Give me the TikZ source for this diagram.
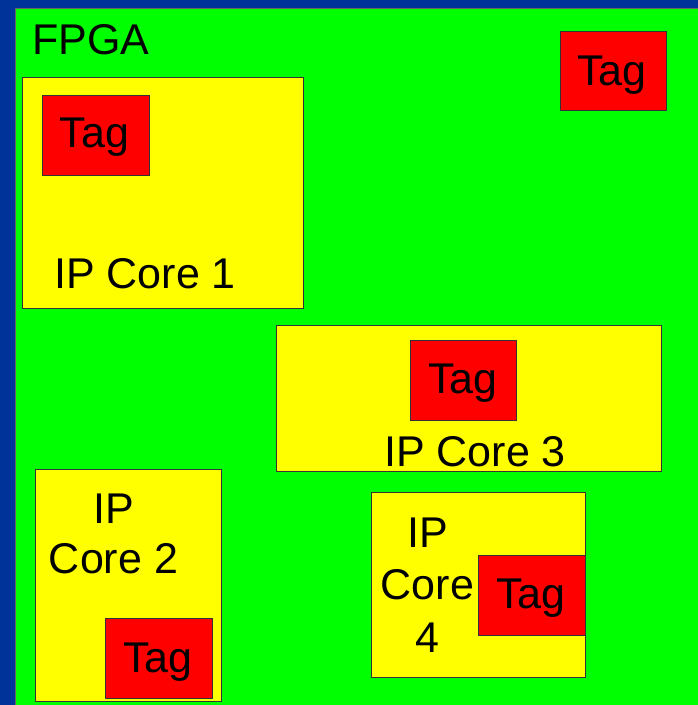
\documentclass[tikz,border=0pt]{standalone}
\usepackage{fontspec}
\setmainfont{Liberation Sans}
\definecolor{bgblue}{RGB}{0,51,153}
\definecolor{fpgagreen}{RGB}{0,255,0}
\definecolor{coreyellow}{RGB}{255,255,0}
\definecolor{tagred}{RGB}{255,0,0}
\begin{document}
\begin{tikzpicture}[x=1pt,y=-1pt,
  corebox/.style={fill=coreyellow,draw=black!80,line width=0.8pt},
  tagbox/.style={fill=tagred,draw=black!80,line width=0.8pt},
  lbl/.style={inner sep=0pt,font=\fontsize{43}{50}\selectfont}]
\useasboundingbox (0,0) rectangle (698,705);
\fill[bgblue] (0,0) rectangle (698,705);
\fill[fpgagreen,draw=black!60,line width=0.6pt] (15,8) rectangle (705,712);
\node[lbl,anchor=base west] (fpga) at (32,54) {FPGA};
% top-right tag
\draw[tagbox] (560,31) rectangle (666,110);
\node[lbl,anchor=base] (tag0) at (612,85) {Tag};
% IP Core 1
\draw[corebox] (22,77) rectangle (303,308);
\draw[tagbox] (42,95) rectangle (149,175);
\node[lbl,anchor=base] (tag1) at (94.5,147) {Tag};
\node[lbl,anchor=base west] (core1) at (54,288) {IP Core 1};
% IP Core 3
\draw[corebox] (276,325) rectangle (661,471);
\draw[tagbox] (410,340) rectangle (516.5,420);
\node[lbl,anchor=base] (tag3) at (463,393) {Tag};
\node[lbl,anchor=base] (core3) at (475,466) {IP Core 3};
% IP Core 2
\draw[corebox] (35,469) rectangle (221,701);
\node[lbl,anchor=base] (core2a) at (113.5,523) {IP};
\node[lbl,anchor=base] (core2b) at (113.5,573) {Core 2};
\draw[tagbox] (105,618) rectangle (212,698);
\node[lbl,anchor=base] (tag2) at (158,672) {Tag};
% IP Core 4
\draw[corebox] (371,492) rectangle (585.5,677.5);
\node[lbl,anchor=base] (core4a) at (427.5,547) {IP};
\node[lbl,anchor=base] (core4b) at (427.5,599) {Core};
\node[lbl,anchor=base] (core4c) at (427.5,652) {4};
\draw[tagbox] (478,555) rectangle (585.5,635);
\node[lbl,anchor=base] (tag4) at (531,608) {Tag};
\end{tikzpicture}
\end{document}
